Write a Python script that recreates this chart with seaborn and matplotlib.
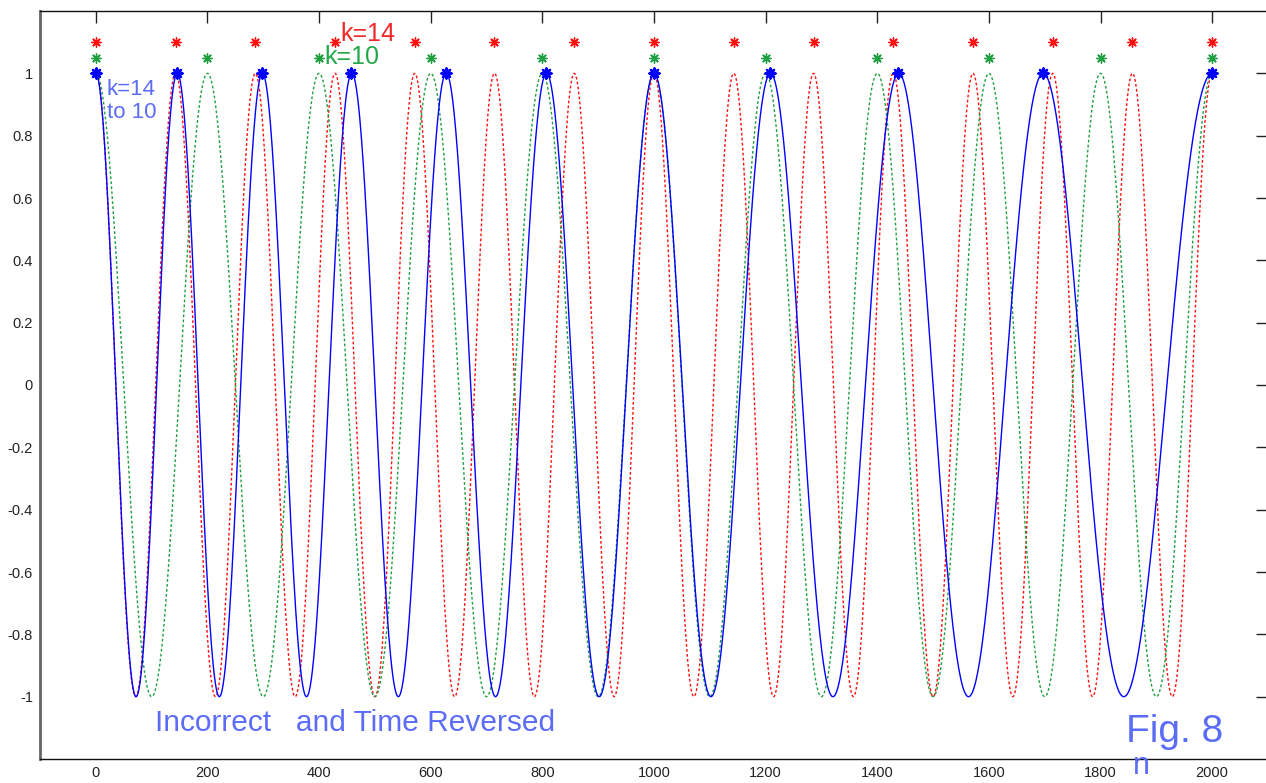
import numpy as np
import pandas as pd
import matplotlib
matplotlib.use("Agg")
import matplotlib.pyplot as plt
import seaborn as sns

# ---- data ----
N = 2000                      # signal length (x runs 0..2000)
k_red = 14                    # red dotted cosine, k=14 cycles
k_green = 10                  # green dotted cosine, k=10 cycles
k_blue_start = 14             # blue "incorrect" chirp: starts at k=14
k_blue_drop = 4               # quadratic phase term of the blue chirp
red_star_x = [0, 143, 286, 429, 571, 714, 857, 1000, 1143, 1286, 1429, 1571, 1714, 1857, 2000]
green_star_x = [0, 200, 400, 600, 800, 1000, 1200, 1400, 1600, 1800, 2000]
blue_star_x = [0, 146, 298, 458, 627, 806, 1000, 1207, 1438, 1697, 2000]
red_star_y = 1.10
green_star_y = 1.05
blue_star_y = 1.00
x_ticks = [0, 200, 400, 600, 800, 1000, 1200, 1400, 1600, 1800, 2000]
y_ticks = [-1, -0.8, -0.6, -0.4, -0.2, 0, 0.2, 0.4, 0.6, 0.8, 1]
y_tick_labels = ["-1", "-0.8", "-0.6", "-0.4", "-0.2", "0", "0.2", "0.4", "0.6", "0.8", "1"]

n = np.arange(0, N + 1)
t = n / N
df = pd.DataFrame({
    "n": n,
    "red": np.cos(2 * np.pi * k_red * t),
    "green": np.cos(2 * np.pi * k_green * t),
    "blue": np.cos(2 * np.pi * (k_blue_start * t - k_blue_drop * t ** 2)),
})

RED = "#ff1010"
GREEN = "#1fa040"
BLUE = "#0000ff"
TXT_BLUE = "#5b6cf7"

sns.set_theme(style="white")
plt.rcParams["font.family"] = ["Liberation Sans", "DejaVu Sans"]

fig = plt.figure(figsize=(12.66, 7.83), dpi=100)
W, H = 1266, 783
ax = fig.add_axes([40 / W, 24 / H, (1268 - 40) / W, (759 - 11) / H])

sns.lineplot(data=df, x="n", y="red", ax=ax, color=RED, lw=1.0,
             dashes=False, estimator=None, sort=False, linestyle=(0, (2, 1.6)))
sns.lineplot(data=df, x="n", y="green", ax=ax, color=GREEN, lw=1.0,
             dashes=False, estimator=None, sort=False, linestyle=(0, (2, 1.6)))
sns.lineplot(data=df, x="n", y="blue", ax=ax, color=BLUE, lw=1.0,
             estimator=None, sort=False)

star = (8, 2, 0)
sns.scatterplot(x=red_star_x, y=[red_star_y] * len(red_star_x), ax=ax,
                marker=star, s=45, color=RED, edgecolor=RED, linewidth=1.0, zorder=5)
sns.scatterplot(x=green_star_x, y=[green_star_y] * len(green_star_x), ax=ax,
                marker=star, s=45, color=GREEN, edgecolor=GREEN, linewidth=1.0, zorder=5)
sns.scatterplot(x=blue_star_x, y=[blue_star_y] * len(blue_star_x), ax=ax,
                marker=star, s=50, color=BLUE, edgecolor=BLUE, linewidth=1.8, zorder=6)

ax.set_xlim(-100, 2100)
ax.set_ylim(-1.2, 1.2)
ax.set_xticks(x_ticks)
ax.set_xticklabels([str(v) for v in x_ticks])
ax.set_yticks(y_ticks)
ax.set_yticklabels(y_tick_labels)
ax.set_xlabel("")
ax.set_ylabel("")
ax.tick_params(direction="in", length=8.5, width=1.0, color="#222222",
               top=True, right=True, labelsize=10.5, labelcolor="#222222", pad=5)
ax.tick_params(axis="y", pad=5)

for side in ["top", "bottom", "right"]:
    ax.spines[side].set_color("#111111")
    ax.spines[side].set_linewidth(1.0)
ax.spines["left"].set_color("#666666")
ax.spines["left"].set_linewidth(2.0)

# annotations
ax.text(488, 1.125, "k=14", color="#f02828", fontsize=18, ha="center", va="center")
ax.text(459, 1.051, "k=10", color="#22a84a", fontsize=18, ha="center", va="center")
ax.text(20, 0.949, "k=14", color=TXT_BLUE, fontsize=16, ha="left", va="center")
ax.text(20, 0.875, "to 10", color=TXT_BLUE, fontsize=16, ha="left", va="center")
ax.text(106, -1.086, "Incorrect   and Time Reversed", color=TXT_BLUE, fontsize=21.5,
        ha="left", va="center")
ax.text(1845, -1.145, "Fig. 8", color=TXT_BLUE, fontsize=28, ha="left", va="baseline")
ax.text(1874, -1.248, "n", color=TXT_BLUE, fontsize=22, ha="center", va="baseline",
        clip_on=False)

fig.savefig("out.png", dpi=100)
